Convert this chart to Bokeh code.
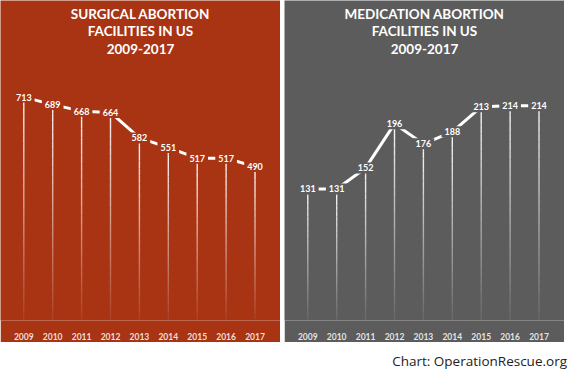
import numpy as np
from bokeh.plotting import figure
from bokeh.models import ColumnDataSource, Label, Range1d, FixedTicker, Div
from bokeh.layouts import row, column
from bokeh.core.properties import value
from bokeh.embed import file_html
from bokeh.resources import INLINE

years = [2009, 2010, 2011, 2012, 2013, 2014, 2015, 2016, 2017]
year_labels = ["2009", "2010", "2011", "2012", "2013", "2014", "2015", "2016", "2017"]
surgical = [713, 689, 668, 664, 582, 551, 517, 517, 490]
medication = [131, 131, 152, 196, 176, 188, 213, 214, 214]
surgical_title = ["SURGICAL ABORTION", "FACILITIES IN US", "2009-2017"]
medication_title = ["MEDICATION ABORTION", "FACILITIES IN US", "2009-2017"]
caption = "Chart: OperationRescue.org"

RED = "#A83414"
GRAY = "#5C5C5C"
FONT = "Lato"


def make_panel(vals, title_lines, bg, y_start, y_end):
    p = figure(width=280, height=342, output_backend="svg", toolbar_location=None,
               x_range=Range1d(2008.194, 2017.882), y_range=Range1d(y_start, y_end),
               min_border_left=0, min_border_right=0, min_border_top=0, min_border_bottom=20)
    p.title.visible = False
    p.background_fill_color = bg
    p.border_fill_color = bg
    p.outline_line_color = None
    p.grid.visible = False
    p.yaxis.visible = False

    ax = p.xaxis[0]
    ax.ticker = FixedTicker(ticks=years)
    ax.major_label_overrides = {y: l for y, l in zip(years, year_labels)}
    ax.axis_line_color = None
    ax.major_tick_line_color = None
    ax.minor_tick_line_color = None
    ax.major_label_standoff = 6
    ax.major_label_text_color = "white"
    ax.major_label_text_alpha = 0.85
    ax.major_label_text_font = FONT
    ax.major_label_text_font_style = "bold"
    ax.major_label_text_font_size = "8.5px"

    # fading drop lines from each point to zero
    n = 24
    x0, y0, x1, y1, al = [], [], [], [], []
    for x, v in zip(years, vals):
        for k in range(n):
            t0, t1 = k / n, (k + 1) / n
            x0.append(x); x1.append(x)
            y0.append(v * (1 - t0)); y1.append(v * (1 - t1))
            al.append(0.95 - 0.9 * t0)
    p.segment(x0=x0, y0=y0, x1=x1, y1=y1, line_color="white", line_alpha=al, line_width=1.4)

    p.line(years, vals, line_color="white", line_width=3)

    src = ColumnDataSource(dict(x=years, y=vals, t=[str(v) for v in vals]))
    p.text(x="x", y="y", text="t", source=src, text_align="center",
           text_baseline="middle", text_color="white",
           text_font=value(FONT), text_font_style="bold",
           text_font_size="9px", background_fill_color=bg, padding=(3, 2))

    for txt, ys in zip(title_lines, [306.4, 290.0, 271.5]):
        p.add_layout(Label(x=140, y=ys, x_units="screen", y_units="screen", text=txt,
                           text_align="center", text_baseline="middle", text_color="white",
                           text_font=FONT, text_font_style="bold", text_font_size="13.5px"))
    return p


p1 = make_panel(surgical, surgical_title, RED, -3.8, 1023)
p2 = make_panel(medication, medication_title, GRAY, -0.3, 319.1)

cap = Div(text=caption, width=564, height=24,
          styles={"font-family": "Open Sans", "font-size": "13.5px", "color": "#222",
                  "text-align": "right", "line-height": "28px", "padding-right": "2px"})

layout = column(row(p1, p2, spacing=4), cap, spacing=0)
open("out.html", "w").write(file_html(layout, INLINE))
